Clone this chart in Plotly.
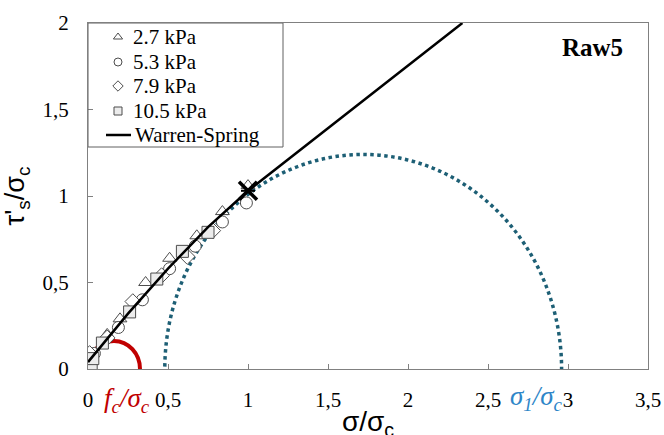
import plotly.graph_objects as go

# ---- data ----
tri_x = [0.12, 0.20, 0.36, 0.51, 0.68, 0.84, 1.00]
tri_y = [0.20, 0.29, 0.50, 0.64, 0.77, 0.91, 1.06]

cir_x = [0.04, 0.19, 0.34, 0.51, 0.67, 0.84, 0.99]
cir_y = [0.09, 0.24, 0.40, 0.58, 0.71, 0.85, 0.96]

dia_x = [0.01, 0.12, 0.28, 0.46, 0.62, 0.78]
dia_y = [0.09, 0.18, 0.39, 0.54, 0.65, 0.80]

sq_x = [0.02, 0.03, 0.09, 0.26, 0.43, 0.59, 0.75]
sq_y = [0.03, 0.06, 0.15, 0.33, 0.52, 0.68, 0.79]

ws_x = [0.0, 0.1, 0.25, 0.5, 0.75, 1.0, 1.5, 2.0, 2.34]
ws_y = [0.04, 0.15, 0.32, 0.58, 0.82, 1.03, 1.39, 1.75, 2.0]

star_x = [1.0]
star_y = [1.03]

# Mohr circles: centre, radius
fc_center, fc_radius = 0.1625, 0.1625
s1_center, s1_radius = 1.72, 1.24

x_ticks = [0, 0.5, 1, 1.5, 2, 2.5, 3, 3.5]
x_labels = ["0", "0,5", "1", "1,5", "2", "2,5", "3", "3,5"]
y_ticks = [0, 0.5, 1, 1.5, 2]
y_labels = ["0", "0,5", "1", "1,5", "2"]

series_names = ["2.7 kPa", "5.3 kPa", "7.9 kPa", "10.5 kPa"]
series_symbols = ["triangle-up", "circle", "diamond", "square"]
series_fills = ["white", "white", "white", "#ececec"]
series_x = [tri_x, cir_x, dia_x, sq_x]
series_y = [tri_y, cir_y, dia_y, sq_y]
line_name = "Warren-Spring"

SERIF = "Liberation Serif"
SANS = "Liberation Sans"
edge = "#4d4d4d"

fig = go.Figure()

for x, y, sym, name, fill in zip(series_x, series_y, series_symbols,
                                 series_names, series_fills):
    fig.add_trace(go.Scatter(
        x=x, y=y, mode="markers", name=name, showlegend=False,
        marker=dict(symbol=sym, size=12, color=fill,
                    line=dict(color=edge, width=1)),
    ))

fig.add_trace(go.Scatter(x=ws_x, y=ws_y, mode="lines", name=line_name,
                         showlegend=False,
                         line=dict(color="black", width=2.5)))

fig.add_trace(go.Scatter(x=star_x, y=star_y, mode="markers", showlegend=False,
                         marker=dict(symbol="x-thin", size=18,
                                     line=dict(color="black", width=3.5))))
fig.add_trace(go.Scatter(x=star_x, y=star_y, mode="markers", showlegend=False,
                         marker=dict(symbol="line-ew", size=10,
                                     line=dict(color="black", width=2))))

fig.add_shape(type="circle", xref="x", yref="y",
              x0=fc_center - fc_radius, x1=fc_center + fc_radius,
              y0=-fc_radius, y1=fc_radius,
              line=dict(color="#c00000", width=4), layer="below")
fig.add_shape(type="circle", xref="x", yref="y",
              x0=s1_center - s1_radius, x1=s1_center + s1_radius,
              y0=-s1_radius, y1=s1_radius,
              line=dict(color="#1d5f75", width=3.5, dash="dot"), layer="below")

# ---- custom legend, laid out on an overlay axis measured in pixels ----
leg_rows = [14, 39, 63, 88, 112]
for row, sym, name, fill in zip(leg_rows[:4], series_symbols, series_names,
                                series_fills):
    fig.add_trace(go.Scatter(
        x=[30], y=[row], xaxis="x2", yaxis="y2", mode="markers",
        showlegend=False, hoverinfo="skip",
        marker=dict(symbol=sym, size=8, color=fill,
                    line=dict(color=edge, width=1))))
    fig.add_annotation(text=name, xref="x2", yref="y2", x=43, y=row,
                       xanchor="left", yanchor="middle", showarrow=False,
                       font=dict(family=SERIF, size=21, color="black"))
fig.add_trace(go.Scatter(
    x=[18, 43], y=[leg_rows[4], leg_rows[4]], xaxis="x2", yaxis="y2",
    mode="lines", showlegend=False, hoverinfo="skip",
    line=dict(color="black", width=2.5)))
fig.add_annotation(text=line_name, xref="x2", yref="y2", x=45, y=leg_rows[4],
                   xanchor="left", yanchor="middle", showarrow=False,
                   font=dict(family=SERIF, size=21, color="black"))
fig.add_shape(type="rect", xref="x2", yref="y2", x0=0, x1=195, y0=0, y1=124,
              line=dict(color="#606060", width=1), fillcolor="rgba(0,0,0,0)")

fig.add_annotation(text="<b>Raw5</b>", xref="paper", yref="paper",
                   x=0.9, y=0.93, xanchor="center", yanchor="middle",
                   showarrow=False,
                   font=dict(family=SERIF, size=25, color="black"))
fig.add_annotation(text="<i>f<sub>c</sub>/σ<sub>c</sub></i>", xref="x", yref="paper",
                   x=0.245, y=-0.09, xanchor="center", yanchor="middle",
                   showarrow=False,
                   font=dict(family=SERIF, size=27, color="#c00000"))
fig.add_annotation(text="<i>σ<sub>1</sub>/σ<sub>c</sub></i>", xref="x", yref="paper",
                   x=2.8, y=-0.085, xanchor="center", yanchor="middle",
                   showarrow=False,
                   font=dict(family=SERIF, size=27, color="#2e86c8"))
# x-axis title (sits low, partly cut by the bottom edge as in the reference)
fig.add_annotation(text="σ/σ<sub>c</sub>", xref="paper", yref="paper",
                   x=0.5, y=-0.1, xanchor="center", yanchor="top",
                   showarrow=False,
                   font=dict(family=SANS, size=28, color="black"))

axis_common = dict(showline=True, linecolor="#808080", linewidth=1.2, mirror=True,
                   ticks="inside", ticklen=5, tickcolor="#808080",
                   showgrid=False, zeroline=False, automargin=False,
                   tickfont=dict(family=SERIF, size=21, color="black"))

fig.update_xaxes(range=[0, 3.5], tickvals=x_ticks, ticktext=x_labels,
                 ticklabelstandoff=12, **axis_common)
fig.update_yaxes(range=[0, 2], tickvals=y_ticks, ticktext=y_labels,
                 ticklabelstandoff=14,
                 title=dict(text="τ'<sub>s</sub>/σ<sub>c</sub>", standoff=10,
                            font=dict(family=SANS, size=27, color="black")),
                 **axis_common)

fig.update_layout(
    width=664, height=435,
    margin=dict(l=88, r=16, t=23, b=66),
    paper_bgcolor="white", plot_bgcolor="white",
    showlegend=False,
    xaxis2=dict(overlaying="x", anchor="y2", range=[0, 560], visible=False,
                fixedrange=True),
    yaxis2=dict(overlaying="y", anchor="x2", range=[346, 0], visible=False,
                fixedrange=True),
)

fig.write_html("out.html", config={"displayModeBar": False},
               post_script="document.body.style.margin='0px';")
